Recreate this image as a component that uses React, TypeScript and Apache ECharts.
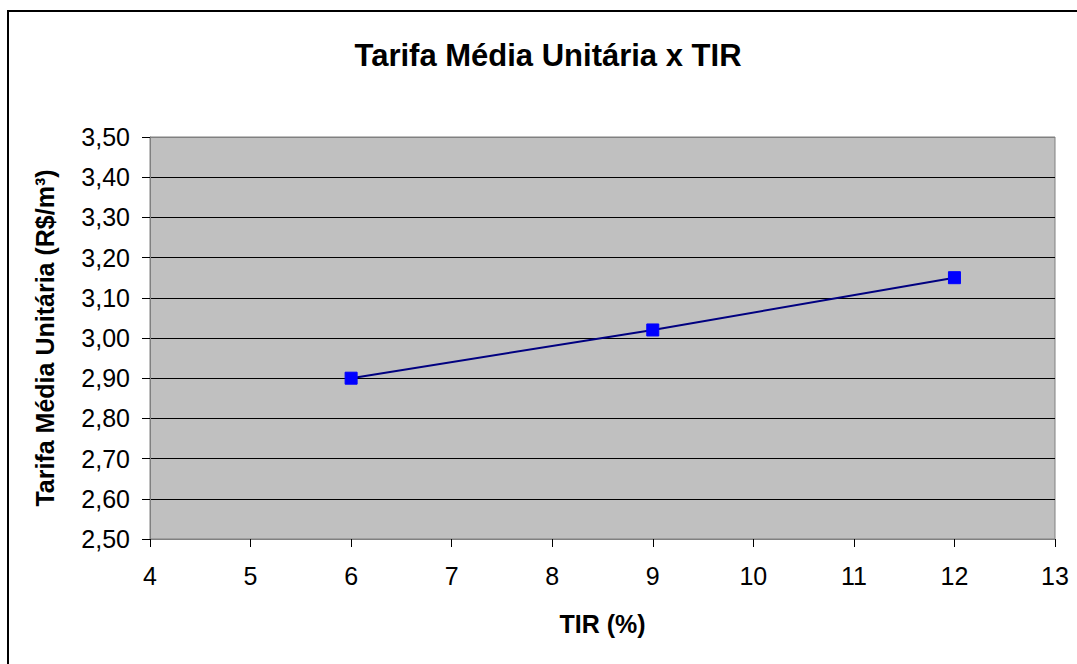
import React, { useEffect, useRef } from "react";
import * as echarts from "echarts";

const titleText = "Tarifa Média Unitária x TIR";
const xAxisName = "TIR (%)";
const yAxisName = "Tarifa Média Unitária (R$/m³)";
const tirValues = [6, 9, 12];
const tarifaValues = [2.9, 3.02, 3.15];
const xMin = 4;
const xMax = 13;
const yMin = 2.5;
const yMax = 3.5;

const FONT = "'Liberation Sans', Arial, sans-serif";

export default function App() {
  const ref = useRef<HTMLDivElement>(null);
  useEffect(() => {
    document.body.style.margin = "0";
    if (!ref.current) return;
    const chart = echarts.init(ref.current, undefined, { renderer: "svg" });
    const splitColors: string[] = [];
    for (let i = 0; i <= 10; i++) splitColors.push(i === 0 || i === 10 ? "#808080" : "#000000");
    chart.setOption({
      animation: false,
      backgroundColor: "#ffffff",
      textStyle: { fontFamily: FONT },
      graphic: [
        {
          type: "rect",
          shape: { x: 8, y: 11, width: 2000, height: 2000 },
          style: { fill: "none", stroke: "#000000", lineWidth: 2 },
          silent: true,
        },
        {
          type: "text",
          x: 548,
          y: 55,
          style: {
            text: titleText,
            font: `bold 31px ${FONT}`,
            fill: "#000000",
            textAlign: "center",
            textVerticalAlign: "middle",
          },
        },
      ],
      grid: {
        left: 150,
        right: 22,
        top: 137,
        bottom: 125,
        show: true,
        backgroundColor: "#C0C0C0",
        borderColor: "#808080",
        borderWidth: 1,
      },
      xAxis: {
        type: "value",
        min: xMin,
        max: xMax,
        interval: 1,
        name: xAxisName,
        nameLocation: "middle",
        nameGap: 72,
        nameTextStyle: { fontFamily: FONT, fontSize: 25, fontWeight: "bold", color: "#000" },
        axisLine: { show: true, lineStyle: { color: "#808080", width: 1 } },
        axisTick: { show: true, length: 8, lineStyle: { color: "#000", width: 1 } },
        axisLabel: { fontFamily: FONT, fontSize: 25, color: "#000", margin: 24 },
        splitLine: { show: false },
      },
      yAxis: {
        type: "value",
        min: yMin,
        max: yMax,
        interval: 0.1,
        name: yAxisName,
        nameLocation: "middle",
        nameGap: 93,
        nameRotate: 90,
        nameTextStyle: { fontFamily: FONT, fontSize: 25, fontWeight: "bold", color: "#000" },
        axisLine: { show: true, lineStyle: { color: "#808080", width: 1 } },
        axisTick: { show: true, length: 8, lineStyle: { color: "#000", width: 1 } },
        axisLabel: {
          fontFamily: FONT,
          fontSize: 25,
          color: "#000",
          margin: 20,
          formatter: (v: number) => v.toFixed(2).replace(".", ","),
        },
        splitLine: { show: true, lineStyle: { color: splitColors, width: 1 } },
      },
      series: [
        {
          type: "line",
          data: tirValues.map((x, i) => [x, tarifaValues[i]]),
          symbol: "rect",
          symbolSize: 12,
          itemStyle: { color: "#0000FF", borderColor: "#0000FF" },
          lineStyle: { color: "#000080", width: 2 },
          z: 5,
        },
      ],
    });
    return () => chart.dispose();
  }, []);
  return <div ref={ref} style={{ width: 1077, height: 664 }} />;
}
